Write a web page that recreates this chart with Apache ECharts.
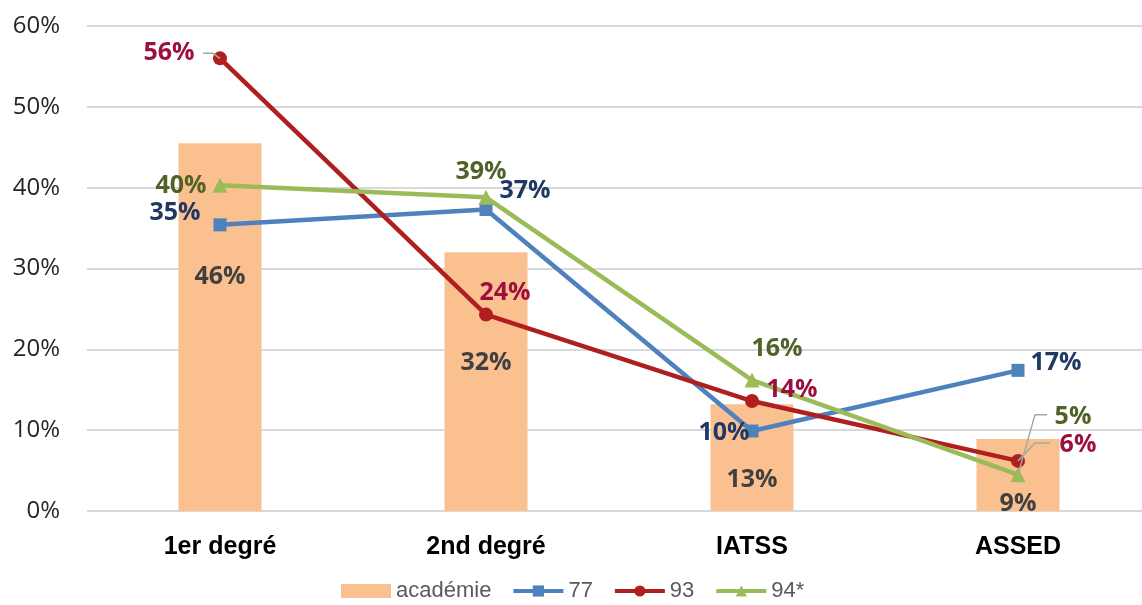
<!DOCTYPE html>
<html><head><meta charset="utf-8">
<script src="https://cdn.jsdelivr.net/npm/echarts@6/dist/echarts.min.js"></script>
<style>html,body{margin:0;padding:0;background:#fff;overflow:hidden}#c{width:1151px;height:605px}</style>
</head><body><div id="c"></div>
<script>
const categories = ['1er degré', '2nd degré', 'IATSS', 'ASSED'];
const yTicks = [0, 10, 20, 30, 40, 50, 60];
const academie = [45.5, 32.0, 13.2, 8.9];
const s77 = [35.4, 37.3, 9.9, 17.4];
const s93 = [56.0, 24.3, 13.6, 6.2];
const s94 = [40.3, 38.8, 16.2, 4.5];

const FONT = '"Open Sans", "Liberation Sans", sans-serif';
const ARIAL = '"Liberation Sans", Arial, sans-serif';
const pct = p => Math.round(p.value) + '%';

// label centre offsets from each point (styling only)
const off77 = [[-45, -12], [39, -19], [-28, 2], [38, -7]];
const off93 = [[-51, -5], [19, -22], [40, -11], [60, -16]];
const off94 = [[-39, 1], [-5, -25], [25, -31], [55, -58]];
const acadDist = [121, 98, 63, 52];
// leader lines (pixel offsets from the point): series index -> data index -> [bend dx, bend dy, end dx]
const leaders = [
  {series: 2, index: 0, shape: [-7, -5, -17]},
  {series: 2, index: 3, shape: [17, -18, 32]},
  {series: 3, index: 3, shape: [17, -60, 29]}
];

function layout(offs) {
  return p => {
    const cx = p.rect.x + p.rect.width / 2, cy = p.rect.y + p.rect.height / 2;
    const o = offs[p.dataIndex];
    return {x: cx + o[0], y: cy + o[1], align: 'center', verticalAlign: 'middle'};
  };
}
function lineSeries(name, vals, color, labelColor, symbol, size, offs) {
  return {
    name, type: 'line', symbol, symbolSize: size,
    lineStyle: {color, width: 4.5}, itemStyle: {color},
    data: vals,
    label: {show: true, position: 'inside', formatter: pct, color: labelColor, fontSize: 25, fontWeight: 'bold', fontFamily: FONT},
    labelLayout: layout(offs)
  };
}

const chart = echarts.init(document.getElementById('c'));
const seriesVals = [academie, s77, s93, s94];
chart.setOption({
  animation: false,
  grid: {left: 87, top: 26, right: 0, height: 485, containLabel: false},
  xAxis: {
    type: 'category', data: categories,
    axisLine: {show: false}, axisTick: {show: false},
    axisLabel: {color: '#000', fontSize: 25, fontWeight: 'bold', fontFamily: ARIAL, margin: 24}
  },
  yAxis: {
    type: 'value', min: yTicks[0], max: yTicks[yTicks.length - 1], interval: 10,
    axisLabel: {formatter: '{value}%', color: '#262626', fontSize: 24, fontFamily: FONT, margin: 27},
    splitLine: {lineStyle: {color: '#D9D9D9', width: 2}},
    axisLine: {show: false}, axisTick: {show: false}
  },
  legend: {
    top: 580, left: 341, padding: 0, itemGap: 20, itemWidth: 50, itemHeight: 14,
    lineStyle: {width: 4},
    textStyle: {color: '#595959', fontSize: 22, fontFamily: ARIAL},
    data: [{name: 'académie', icon: 'rect'}, {name: '77'}, {name: '93'}, {name: '94*'}]
  },
  series: [
    {
      name: 'académie', type: 'bar', barWidth: 83,
      itemStyle: {color: '#FAC090'},
      data: academie.map((v, i) => ({value: v, label: {distance: acadDist[i]}})),
      label: {show: true, position: 'insideTop', formatter: pct, color: '#404040', fontSize: 25, fontWeight: 'bold', fontFamily: FONT}
    },
    lineSeries('77', s77, '#4F81BD', '#1F3864', 'rect', 13, off77),
    lineSeries('93', s93, '#B01F1F', '#9C0F3F', 'circle', 14, off93),
    lineSeries('94*', s94, '#9BBB59', '#4F6228', 'triangle', 15, off94)
  ]
});

// leader lines anchored on the library's own pixel position of each point
const graphics = leaders.map(l => {
  const [px, py] = chart.convertToPixel({seriesIndex: l.series}, [l.index, seriesVals[l.series][l.index]]);
  const s = l.shape;
  return {
    type: 'polyline', z: 5, silent: true,
    shape: {points: [[px, py], [px + s[0], py + s[1]], [px + s[2], py + s[1]]]},
    style: {stroke: '#A6A6A6', lineWidth: 1.5, fill: null}
  };
});
chart.setOption({graphic: graphics});
</script></body></html>
